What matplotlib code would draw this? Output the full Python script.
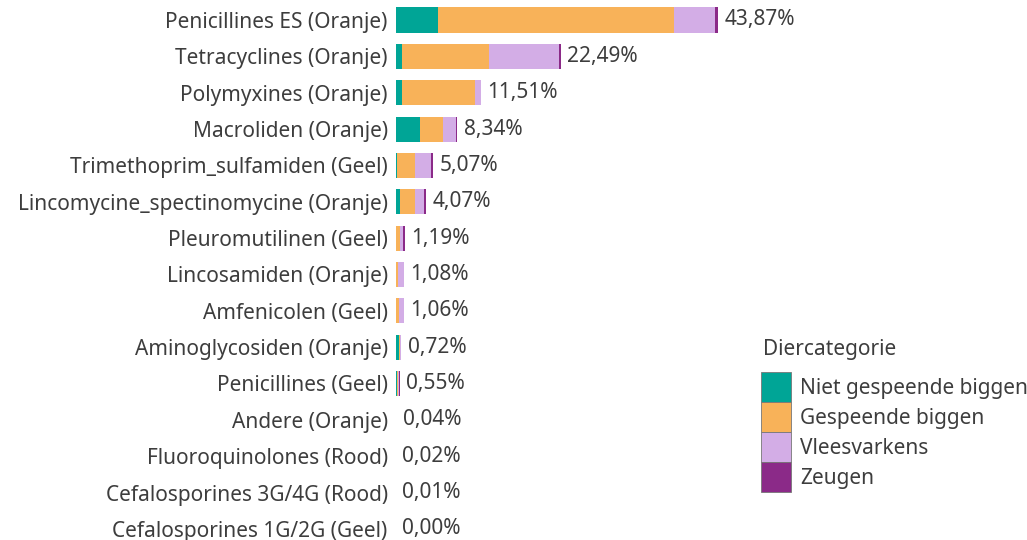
import matplotlib
matplotlib.use('Agg')
import matplotlib.pyplot as plt
import matplotlib.patches as mpatches
import numpy as np

plt.rcParams['font.family'] = ['Noto Sans', 'DejaVu Sans']

categories = ['Penicillines ES (Oranje)', 'Tetracyclines (Oranje)', 'Polymyxines (Oranje)',
              'Macroliden (Oranje)', 'Trimethoprim_sulfamiden (Geel)',
              'Lincomycine_spectinomycine (Oranje)', 'Pleuromutilinen (Geel)',
              'Lincosamiden (Oranje)', 'Amfenicolen (Geel)', 'Aminoglycosiden (Oranje)',
              'Penicillines (Geel)', 'Andere (Oranje)', 'Fluoroquinolones (Rood)',
              'Cefalosporines 3G/4G (Rood)', 'Cefalosporines 1G/2G (Geel)']
totals = [43.87, 22.49, 11.51, 8.34, 5.07, 4.07, 1.19, 1.08, 1.06, 0.72, 0.55, 0.04, 0.02, 0.01, 0.00]

niet_gespeend = [5.76, 0.78, 0.75, 3.20, 0.18, 0.54, 0.00, 0.00, 0.00, 0.38, 0.15, 0.00, 0.01, 0.01, 0.00]
gespeend = [32.04, 11.84, 10.00, 3.15, 2.40, 2.03, 0.54, 0.30, 0.38, 0.20, 0.15, 0.02, 0.01, 0.00, 0.00]
vleesvarkens = [5.66, 9.50, 0.76, 1.75, 2.13, 1.27, 0.37, 0.76, 0.68, 0.14, 0.10, 0.02, 0.00, 0.00, 0.00]
zeugen = [0.41, 0.37, 0.00, 0.24, 0.36, 0.23, 0.28, 0.02, 0.00, 0.00, 0.15, 0.00, 0.00, 0.00, 0.00]

series = {
    'Niet gespeende biggen': (niet_gespeend, '#00a596'),
    'Gespeende biggen': (gespeend, '#f8b259'),
    'Vleesvarkens': (vleesvarkens, '#d3ade6'),
    'Zeugen': (zeugen, '#8b2a88'),
}

text_col = '#3d3d3d'
fs = 15

fig = plt.figure(figsize=(10.27, 5.4), dpi=100)
ax = fig.add_axes([396 / 1027, 0, 631 / 1027, 1])

y = np.arange(len(categories))
left = np.zeros(len(categories))
handles = []
for name, (vals, col) in series.items():
    ax.barh(y, vals, left=left, height=0.69, color=col, edgecolor='none')
    left += np.array(vals)
    handles.append(mpatches.Patch(facecolor=col, edgecolor='#777777', linewidth=0.6, label=name))

for i, t in enumerate(totals):
    ax.annotate(f'{t:.2f}%'.replace('.', ','), (left[i], i), xytext=(4.5, 0),
                textcoords='offset points', va='center', ha='left',
                fontsize=fs, color=text_col)

ax.set_xlim(0, 631 / 7.347)
ax.set_ylim((540 - 20) / 36.35, -20 / 36.35)
ax.set_yticks(y)
ax.set_yticklabels(categories, fontsize=fs, color=text_col)
ax.tick_params(axis='y', length=0, pad=6)
ax.set_xticks([])
for s in ax.spines.values():
    s.set_visible(False)

# legend title drawn separately so the gap to the swatches can be set
fig.text(763 / 1027, 1 - 350 / 540, 'Diercategorie', fontsize=fs, color=text_col,
         ha='left', va='center')
leg = fig.legend(handles=handles, loc='upper left',
                 bbox_to_anchor=(761 / 1027, 1 - 372 / 540), frameon=False,
                 fontsize=fs, handlelength=1.44, handleheight=1.84,
                 labelspacing=0.0, handletextpad=0.45, borderpad=0, borderaxespad=0)
for txt in leg.get_texts():
    txt.set_color(text_col)

fig.savefig('out.png', dpi=100)
